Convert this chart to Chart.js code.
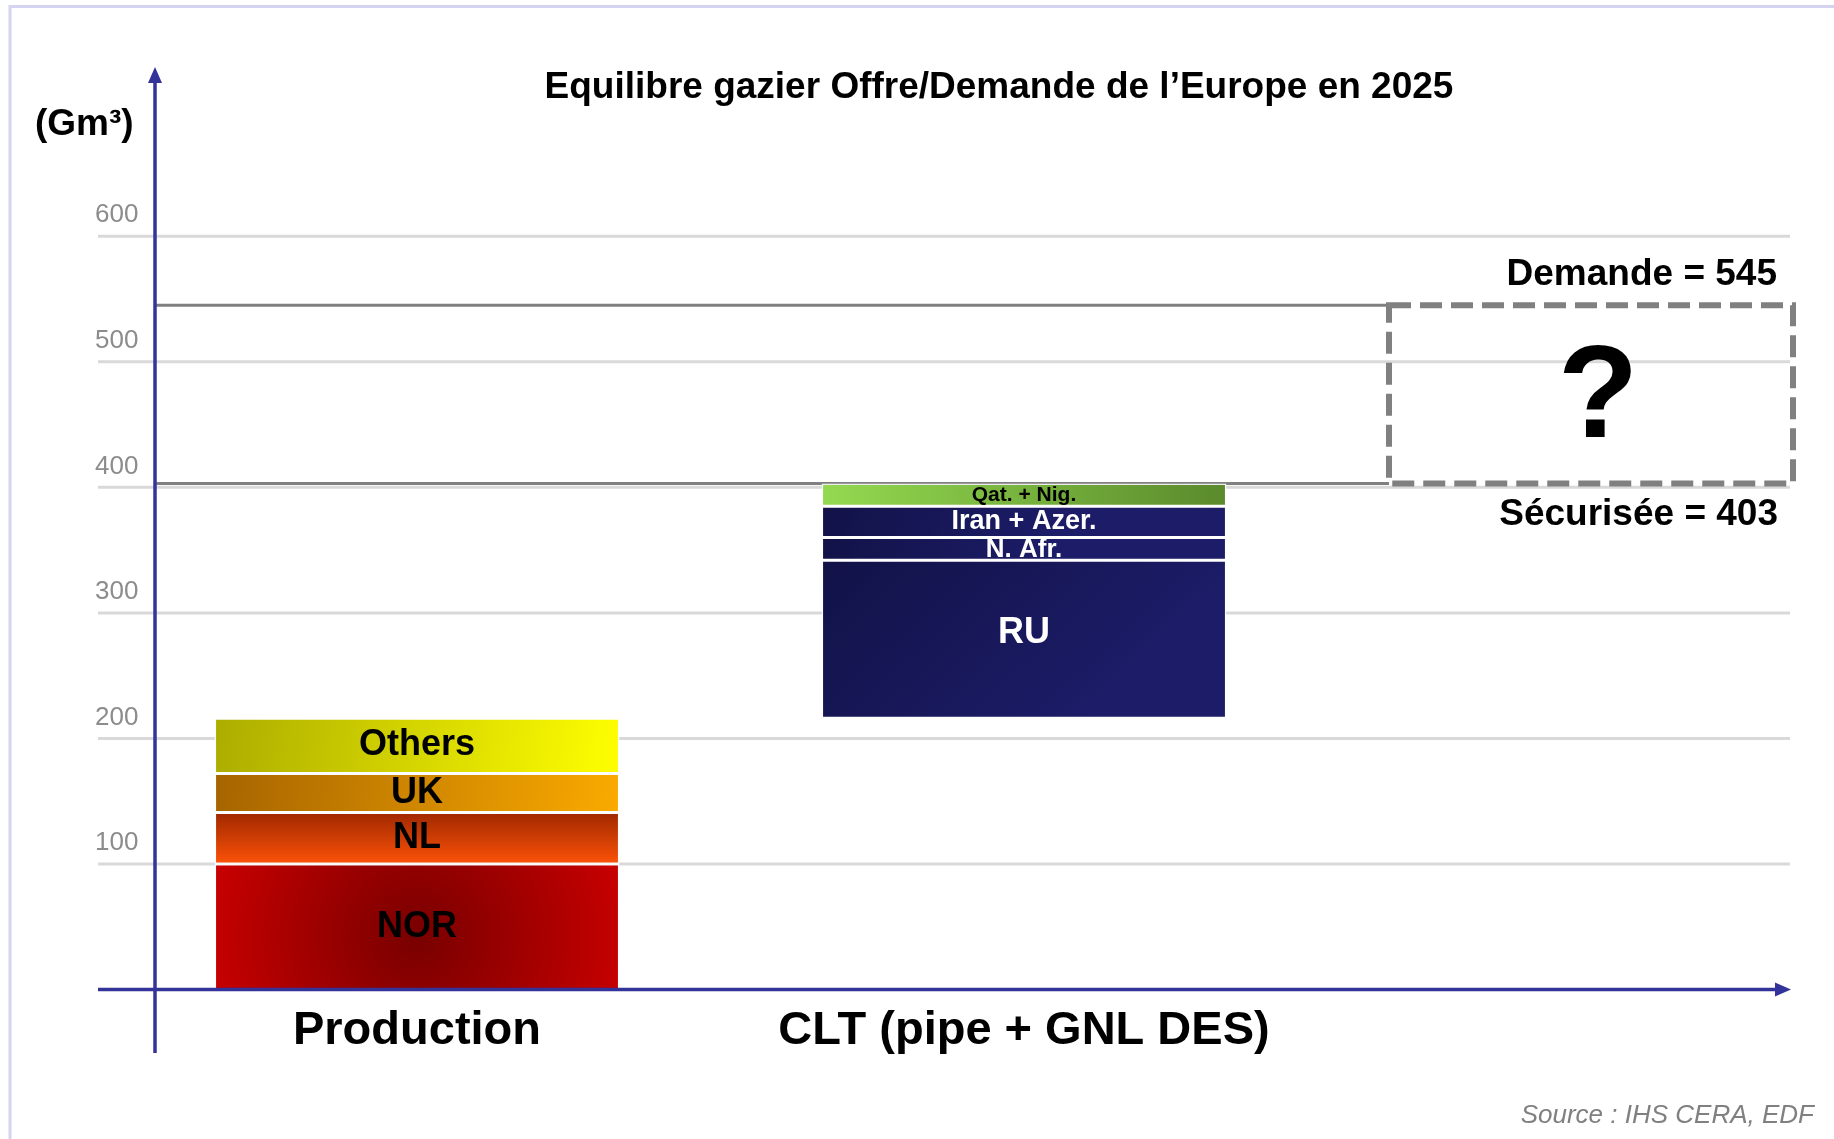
<!DOCTYPE html>
<html>
<head>
<meta charset="utf-8">
<title>Equilibre gazier Offre/Demande de l’Europe en 2025</title>
<script src="https://cdn.jsdelivr.net/npm/chart.js@4.4.1/dist/chart.umd.min.js"></script>
<style>
  html, body { margin: 0; padding: 0; background: #fff; }
  canvas { display: block; }
</style>
</head>
<body>
<canvas id="gasChart" width="1834" height="1139"></canvas>
<script>
// values (Gm3)
const categories = ['Production', 'CLT (pipe + GNL DES)'];
const productionLabels = ['NOR', 'NL', 'UK', 'Others'];
const productionValues = [100, 41, 31, 44];
const cltLabels = ['RU', 'N. Afr.', 'Iran + Azer.', 'Qat. + Nig.'];
const cltValues = [126, 18, 25, 18];
const yTicks = [100, 200, 300, 400, 500, 600];
const demande = 545;
const securisee = 403;

const FONT = "'Liberation Sans', Arial, Helvetica, sans-serif";
const AXIS_BLUE = '#333399';
const BAR_PCT = 0.667;

// floating bars, each segment starts where the previous one stops
function stackRanges(values, start) {
  let base = start;
  return values.map(v => {
    const r = [base, base + v];
    base += v;
    return r;
  });
}
const prodTotal = productionValues.reduce((a, b) => a + b, 0);
const prodRanges = stackRanges(productionValues, 0);
const cltRanges = stackRanges(cltValues, prodTotal);

function lin(g, x0, y0, x1, y1, c0, c1) {
  const lg = g.createLinearGradient(x0, y0, x1, y1);
  lg.addColorStop(0, c0);
  lg.addColorStop(1, c1);
  return lg;
}
const navy = (g, b) => lin(g, b.l, b.t, b.l + (b.r - b.l) * 0.5, b.b + 60, '#121248', '#1c1c68');
const segmentFill = {
  'NOR': (g, b) => {
    const cy = b.b - (b.b - b.t) * 0.42;
    const rg = g.createRadialGradient(b.cx, cy, 0, b.cx, cy, (b.r - b.l) * 0.55);
    rg.addColorStop(0, '#780000');
    rg.addColorStop(1, '#cc0000');
    return rg;
  },
  'NL': (g, b) => lin(g, 0, b.t, 0, b.b, '#a02800', '#fc5208'),
  'UK': (g, b) => lin(g, b.l, b.t, b.r, b.b, '#a66400', '#faaa00'),
  'Others': (g, b) => lin(g, b.l, b.t, b.r, b.b, '#acac00', '#ffff00'),
  'RU': navy,
  'N. Afr.': navy,
  'Iran + Azer.': navy,
  'Qat. + Nig.': (g, b) => lin(g, b.l, b.b, b.r, b.t, '#94da50', '#5a8a2c')
};
const plainFill = {
  'NOR': '#b00000', 'NL': '#e04000', 'UK': '#d89000', 'Others': '#e0e000',
  'RU': '#1a1a60', 'N. Afr.': '#1a1a60', 'Iran + Azer.': '#1a1a60', 'Qat. + Nig.': '#78b840'
};
const segmentText = {
  'NOR': { size: 36, color: '#000', dy: 0 },
  'NL': { size: 36, color: '#000', dy: 0 },
  'UK': { size: 36, color: '#000', dy: 0 },
  'Others': { size: 36, color: '#000', dy: -1 },
  'RU': { size: 36, color: '#fff', dy: -6 },
  'N. Afr.': { size: 26, color: '#fff', dy: 1 },
  'Iran + Azer.': { size: 27, color: '#fff', dy: 0 },
  'Qat. + Nig.': { size: 21, color: '#000', dy: 0 }
};

function barFill(c) {
  const chart = c.chart;
  const { x, y } = chart.scales;
  const r = c.raw;
  const name = c.dataset.label;
  if (!Array.isArray(r)) return 'transparent';
  if (!x || !y) return plainFill[name];
  const cx = x.getPixelForValue(c.dataIndex);
  const hw = (x.getPixelForValue(1) - x.getPixelForValue(0)) * BAR_PCT / 2;
  const box = { l: cx - hw, r: cx + hw, t: y.getPixelForValue(r[1]), b: y.getPixelForValue(r[0]), cx: cx };
  if (![box.l, box.r, box.t, box.b].every(Number.isFinite) || box.r <= box.l) return plainFill[name];
  return segmentFill[name](chart.ctx, box);
}

const datasets = [];
productionLabels.forEach((lab, i) => datasets.push({ label: lab, data: [prodRanges[i], null] }));
cltLabels.forEach((lab, i) => datasets.push({ label: lab, data: [null, cltRanges[i]] }));
datasets.forEach(ds => {
  ds.grouped = false;
  ds.categoryPercentage = 1;
  ds.barPercentage = BAR_PCT;
  ds.backgroundColor = barFill;
  ds.borderColor = 'rgba(255,255,255,0.85)';
  ds.borderWidth = 1.5;
  ds.borderSkipped = false;
});

function seg(ctx, x0, y0, x1, y1) {
  ctx.beginPath();
  ctx.moveTo(x0, y0);
  ctx.lineTo(x1, y1);
  ctx.stroke();
}

const decor = {
  id: 'decor',
  beforeDatasetsDraw(chart) {
    const ctx = chart.ctx;
    const y = chart.scales.y;
    ctx.save();
    // light frame of the slide
    ctx.strokeStyle = '#d4d4f0';
    ctx.lineWidth = 3;
    ctx.beginPath();
    ctx.moveTo(10, 1139);
    ctx.lineTo(10, 6.5);
    ctx.lineTo(1834, 6.5);
    ctx.stroke();
    // gridlines
    ctx.strokeStyle = '#d9d9d9';
    ctx.lineWidth = 3;
    yTicks.forEach(v => {
      const py = y.getPixelForValue(v);
      seg(ctx, 98, py, 1790, py);
    });
    // demand and secured supply levels
    ctx.strokeStyle = '#808080';
    ctx.lineWidth = 3;
    [demande, securisee].forEach(v => {
      const py = y.getPixelForValue(v);
      seg(ctx, 155, py, 1389, py);
    });
    ctx.restore();
  },
  afterDatasetsDraw(chart) {
    const ctx = chart.ctx;
    const y = chart.scales.y;
    ctx.save();

    // segment labels
    ctx.textAlign = 'center';
    ctx.textBaseline = 'middle';
    chart.data.datasets.forEach((ds, i) => {
      const st = segmentText[ds.label];
      chart.getDatasetMeta(i).data.forEach((el, j) => {
        if (ds.data[j] == null) return;
        ctx.font = 'bold ' + st.size + 'px ' + FONT;
        ctx.fillStyle = st.color;
        ctx.fillText(ds.label, el.x, (el.y + el.base) / 2 + st.dy);
      });
    });

    // axes with arrow heads
    const y0 = y.getPixelForValue(0);
    ctx.strokeStyle = AXIS_BLUE;
    ctx.fillStyle = AXIS_BLUE;
    ctx.lineWidth = 3.5;
    seg(ctx, 155, 1053, 155, 80);
    ctx.beginPath();
    ctx.moveTo(155, 67);
    ctx.lineTo(148, 83);
    ctx.lineTo(162, 83);
    ctx.closePath();
    ctx.fill();
    seg(ctx, 98, y0, 1776, y0);
    ctx.beginPath();
    ctx.moveTo(1791, y0);
    ctx.lineTo(1775, y0 - 7);
    ctx.lineTo(1775, y0 + 7);
    ctx.closePath();
    ctx.fill();

    // dashed "unknown" box between secured and demand
    const yTop = y.getPixelForValue(demande);
    const yBot = y.getPixelForValue(securisee);
    ctx.strokeStyle = '#808080';
    ctx.lineWidth = 6;
    ctx.setLineDash([22, 9]);
    ctx.strokeRect(1389, yTop, 1793 - 1389, yBot - yTop);
    ctx.setLineDash([]);

    ctx.fillStyle = '#000';
    ctx.textAlign = 'center';
    ctx.textBaseline = 'alphabetic';
    ctx.font = 'bold 132px ' + FONT;
    ctx.fillText('?', 1598, (yTop + yBot) / 2 + 43);

    ctx.textAlign = 'right';
    ctx.textBaseline = 'middle';
    ctx.font = 'bold 37px ' + FONT;
    ctx.fillText('Demande = ' + demande, 1777, yTop - 31);
    ctx.fillText('Sécurisée = ' + securisee, 1778, yBot + 31);

    // titles
    ctx.textAlign = 'center';
    ctx.fillText('Equilibre gazier Offre/Demande de l’Europe en 2025', 999, 88);
    ctx.textAlign = 'left';
    ctx.fillText('(Gm³)', 35, 125);

    ctx.textAlign = 'right';
    ctx.fillStyle = '#808080';
    ctx.font = 'italic 26px ' + FONT;
    ctx.fillText('Source : IHS CERA, EDF', 1814, 1116);
    ctx.restore();
  }
};

new Chart(document.getElementById('gasChart'), {
  type: 'bar',
  data: { labels: categories, datasets: datasets },
  options: {
    responsive: false,
    animation: false,
    devicePixelRatio: 1,
    layout: { padding: { top: 236.3, left: 0, right: 506.5, bottom: 59.5 } },
    plugins: { legend: { display: false }, tooltip: { enabled: false }, title: { display: false } },
    scales: {
      x: {
        offset: true,
        grid: { display: false, drawTicks: false },
        border: { display: false },
        ticks: {
          color: '#000',
          font: { family: FONT, size: 47, weight: 'bold' },
          padding: 13,
          maxRotation: 0,
          autoSkip: false
        },
        afterFit: s => { s.height = 90; }
      },
      y: {
        min: 0,
        max: 600,
        grid: { display: false, drawTicks: false },
        border: { display: false },
        ticks: {
          stepSize: 100,
          color: '#8c8c8c',
          font: { family: FONT, size: 26 },
          mirror: true,
          padding: -18.5,
          labelOffset: -21,
          callback: v => (v === 0 ? '' : v)
        },
        afterFit: s => { s.width = 113.5; }
      }
    }
  },
  plugins: [decor]
});
</script>
</body>
</html>
